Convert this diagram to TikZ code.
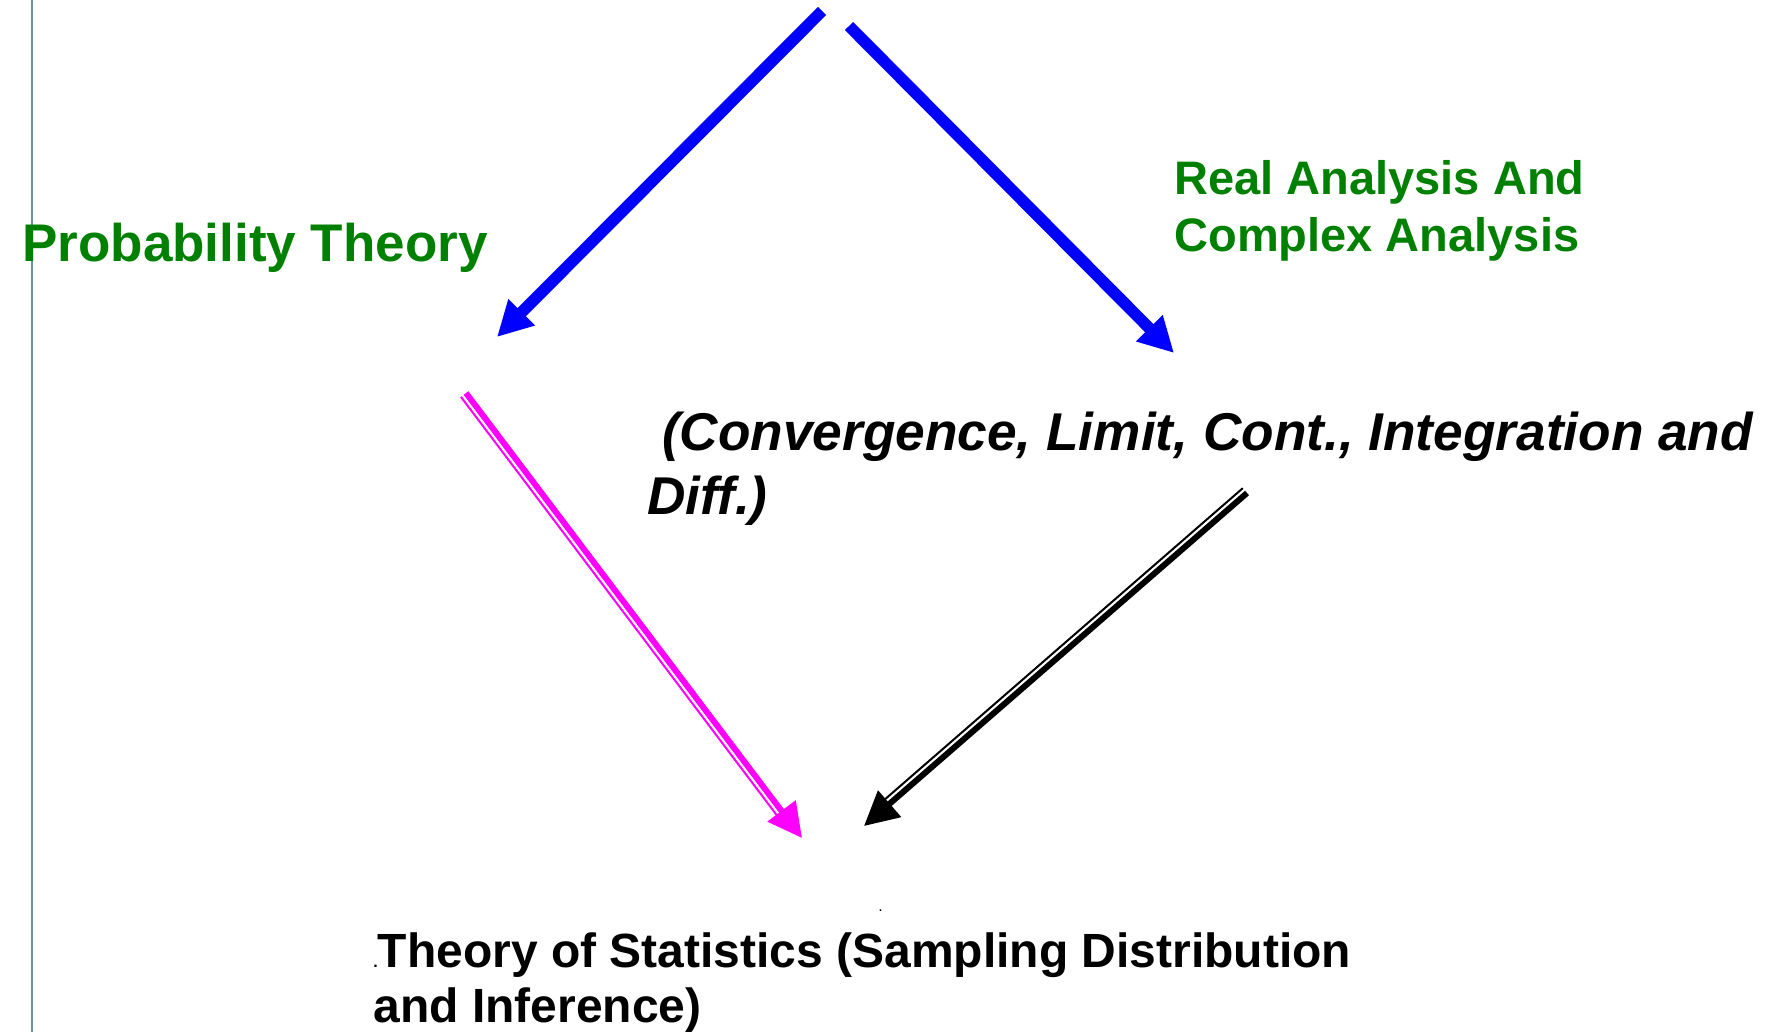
\documentclass[tikz,border=0pt]{standalone}
\usepackage{fontspec}
\setmainfont{Liberation Sans}
\usetikzlibrary{arrows.meta,calc}
\definecolor{leafgreen}{RGB}{0,128,0}
\definecolor{railgray}{RGB}{112,146,160}
\definecolor{pinkmag}{RGB}{255,0,255}
\definecolor{pureblue}{RGB}{0,0,255}

\begin{document}
\begin{tikzpicture}[x=0.5pt,y=-0.5pt,
    feed/.style={line width=5.8pt,pureblue,-{Triangle[length=17.5pt,width=17.5pt]}},
    twin/.style={line width=3pt,-{Triangle[length=17pt,width=17pt]}},
    twinthin/.style={line width=1pt,shorten >=16pt}]
            \useasboundingbox (0,0) rectangle (1772,1032);
            \draw[railgray,line width=1pt] (32,0) -- (32,1032);
            % subjects
            \node (prob) [anchor=base west,inner sep=0pt,text=leafgreen,font=\fontsize{26.5}{32}\selectfont\bfseries] at (22,262) {Probability Theory};
            \node (anal) [anchor=base west,inner sep=0pt,align=left,text=leafgreen,font=\fontsize{23.5}{28.5}\selectfont\bfseries] at (1174,252) {Real Analysis And\\Complex Analysis};
            \node (topics) [anchor=base west,inner sep=0pt,align=left,font=\fontsize{26.6}{32}\selectfont\bfseries\itshape] at (647,514) {\ (Convergence, Limit, Cont., Integration and\\Diff.)};
            \node (dot) [anchor=base west,inner sep=0pt,font=\fontsize{8}{8}\selectfont] at (878,911) {.};
            \node (stats) [anchor=base west,inner sep=0pt,align=left,font=\fontsize{24}{27.5}\selectfont\bfseries] at (373,1022) {{\fontsize{8}{8}\selectfont.}Theory of Statistics (Sampling Distribution\\and Inference)};
            % arrow ends
            \foreach \n/\x/\y in {b1s/822/11, b1t/497/337, b2s/849/26, b2t/1174/353, ps/466/393, pt/802/838, ks/1247/493, kt/864/826}
                \coordinate (\n) at (\x,\y);
            \draw[feed] (b1s) -- (b1t);
            \draw[feed] (b2s) -- (b2t);
            \draw[twin,pinkmag] (ps) -- (pt);
            \draw[twinthin,pinkmag] ($(ps)!3.2pt!-90:(pt)$) -- ($(pt)!3.2pt!90:(ps)$);
            \draw[twin,black] (ks) -- (kt);
            \draw[twinthin,black] ($(ks)!3.2pt!-90:(kt)$) -- ($(kt)!3.2pt!90:(ks)$);
        \end{tikzpicture}
\end{document}
